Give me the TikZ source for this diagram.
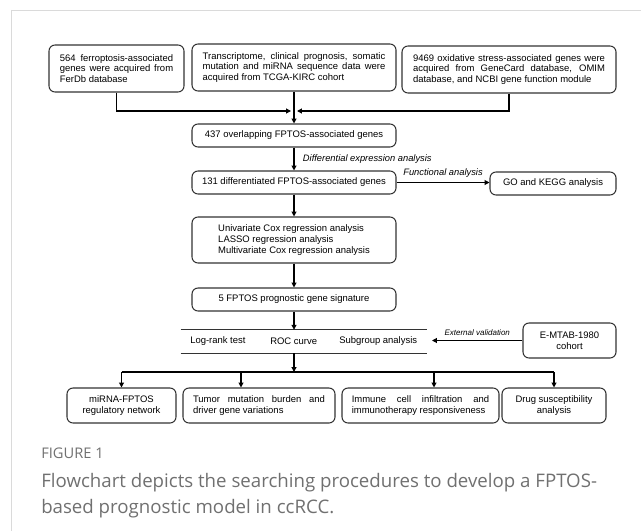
\documentclass[tikz,border=0pt]{standalone}
\usepackage{fontspec}
\setmainfont{Liberation Sans}
\newfontfamily\capfont{Open Sans}
\usetikzlibrary{arrows.meta}
\definecolor{rulegray}{HTML}{DADADA}
\definecolor{capgray}{HTML}{707070}
\definecolor{boxline}{HTML}{333333}

\begin{document}
\begin{tikzpicture}[x=0.75pt,y=-0.75pt,
    box/.style={draw=boxline,line width=0.8pt,rounded corners=4.5pt,inner sep=0pt,
      font=\fontsize{7.1}{8.1}\selectfont,minimum width=153pt,minimum height=17.25pt},
    jbox/.style={box,align=justify},
    txt/.style={font=\fontsize{7.1}{8.1}\selectfont,inner sep=0pt},
    lab/.style={font=\fontsize{7}{8}\selectfont\itshape},
    arr/.style={-{Triangle[length=3.6pt,width=3.6pt]},line width=0.8pt}]
\useasboundingbox (0,0) rectangle (641,531);
% frame
\draw[rulegray,line width=0.8pt] (11,10.5) -- (641,10.5) (11.5,10) -- (11.5,531);

% data sources
\node[jbox,minimum width=101.25pt,minimum height=35.25pt,text width=85pt] (ferdb) at (116.5,68.5)
    {564 ferroptosis-associated\linebreak genes were acquired from\linebreak FerDb database};
\node[jbox,minimum height=35.25pt,text width=137pt] (tcga) at (294,67.5)
    {Transcriptome, clinical prognosis, somatic\linebreak mutation and miRNA sequence data were\linebreak acquired from TCGA-KIRC cohort};
\node[jbox,minimum width=160.5pt,minimum height=35.25pt,text width=144pt] (oxid) at (509,69.5)
    {9469 oxidative stress-associated genes were\linebreak acquired from GeneCard database, OMIM\linebreak database, and NCBI gene function module};
\coordinate (jl) at (291,111);
\coordinate (jr) at (297,111);
\draw[arr] (ferdb) |- (jl);
\draw[arr] (oxid) |- (jr);

% main flow
\node[box] (overlap) at (294,135.5) {437 overlapping FPTOS-associated genes};
\draw[arr] (tcga) -- (overlap);
\node[box] (diff) at (294,182.5) {131 differentiated FPTOS-associated genes};
\draw[arr] (overlap) -- node[lab,right=3pt] {Differential expression analysis} (diff);
\node[box,minimum width=94.5pt] (go) at (553,183.5) {GO and KEGG analysis};
\draw[arr] (diff.east) -- node[lab,above] {Functional analysis} (diff.east -| go.west);
\node[box,minimum height=34.5pt,align=left] (cox) at (294,240)
    {Univariate Cox regression analysis\\LASSO regression analysis\\Multivariate Cox regression analysis};
\draw[arr] (diff) -- (cox);
\node[box] (sig) at (294,299.5) {5 FPTOS prognostic gene signature};
\draw[arr] (cox) -- (sig);

% validation
\node[minimum width=184.5pt,minimum height=17.25pt,inner sep=0pt] (tab) at (304,341.5) {};
\draw[line width=0.8pt,boxline] (tab.north west) -- (tab.north east) (tab.south west) -- (tab.south east);
\node[txt,anchor=west] (lr) at (190,341.5) {Log-rank test};
\node[txt,anchor=west] (roc) at (270,341.5) {ROC curve};
\node[txt,anchor=west] (sub) at (339,341.5) {Subgroup analysis};
\draw[arr] (sig) -- (sig.south |- tab.north);
\node[box,minimum width=69.75pt,minimum height=26.25pt,align=center] (emtab) at (569.5,340.5) {E-MTAB-1980\\cohort};
\coordinate (valend) at (432,340.5);
\draw[arr] (emtab) -- node[lab,above,font=\fontsize{6}{7}\selectfont\itshape] {External validation} (valend);

% downstream analyses
\node[box,minimum width=81.75pt,minimum height=26.25pt,align=center] (mirna) at (121.5,405.5) {miRNA-FPTOS\\regulatory network};
\node[jbox,minimum width=114pt,minimum height=26.25pt,text width=99pt] (tmb) at (259,405.5) {Tumor mutation burden and\linebreak driver gene variations};
\node[jbox,minimum width=117.75pt,minimum height=26.25pt,text width=103pt] (imm) at (420.5,405.5) {Immune cell infiltration and\linebreak immunotherapy responsiveness};
\node[box,minimum width=78pt,minimum height=26.25pt,align=center] (drug) at (554,405.5) {Drug susceptibility\\analysis};
\coordinate (bus) at (294,372);
\coordinate (tmbin) at (241,372);
\coordinate (immin) at (434,372);
\draw[arr] (sig.south |- tab.south) -- (bus);
\draw[line width=0.8pt] (mirna.north |- bus) -- (drug.north |- bus);
\draw[arr] (mirna.north |- bus) -- (mirna);
\draw[arr] (tmbin) -- (tmbin |- tmb.north);
\draw[arr] (immin) -- (immin |- imm.north);
\draw[arr] (drug.north |- bus) -- (drug);

% caption
\node[anchor=west,inner sep=0pt,text=capgray,font=\capfont\fontsize{11}{13}\selectfont] (fig) at (41,453) {FIGURE 1};
\node[anchor=north west,inner sep=0pt,align=left,text=capgray,font=\capfont\fontsize{14}{19.5}\selectfont] (cap) at (41,473)
    {Flowchart depicts the searching procedures to develop a FPTOS-\\based prognostic model in ccRCC.};
\end{tikzpicture}
\end{document}
